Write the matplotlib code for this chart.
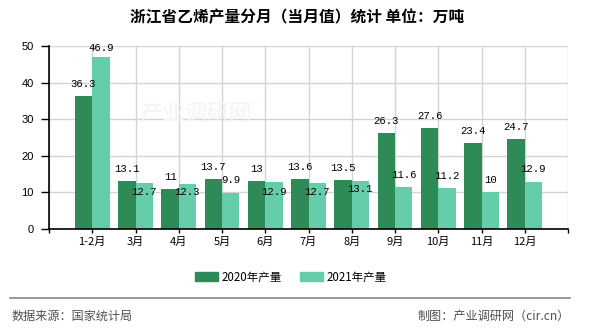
import numpy as np
import matplotlib
matplotlib.use('Agg')
import matplotlib.pyplot as plt
import matplotlib.patches as mpatches

# 浙江省乙烯产量 (万吨)
months = ['1-2月', '3月', '4月', '5月', '6月', '7月', '8月', '9月', '10月', '11月', '12月']
prod_2020 = [36.3, 13.1, 11, 13.7, 13, 13.6, 13.5, 26.3, 27.6, 23.4, 24.7]
prod_2021 = [46.9, 12.7, 12.3, 9.9, 12.9, 12.7, 13.1, 11.6, 11.2, 10, 12.9]

# label offsets (pixels above bar top) for the 2021 values, some sit inside the bar
off_2021 = [9, -9, -8, 13, -10, -9, -8, 12, 12, 12, 13]

plt.rcParams['font.family'] = ['Noto Sans CJK SC', 'DejaVu Sans']

c20 = '#2e8b57'
c21 = '#66cdaa'

fig = plt.figure(figsize=(5.9, 3.3), dpi=100)
ax1 = fig.add_axes([49/590, 1-229/330, (568-49)/590, (229-46)/330])

index = np.arange(1, len(months) + 1)
w = 0.4
ax1.bar(index - w/2, prod_2020, width=w, color=c20, zorder=2)
ax1.bar(index + w/2, prod_2021, width=w, color=c21, zorder=2)

for i in range(len(months)):
	ax1.annotate(f'{prod_2020[i]:g}', (index[i] - w/2, prod_2020[i]), xytext=(0, 12),
		textcoords='offset pixels', ha='center', va='center', fontsize=7.7,
		family='Liberation Mono', zorder=3)
	ax1.annotate(f'{prod_2021[i]:g}', (index[i] + w/2, prod_2021[i]), xytext=(0, off_2021[i]),
		textcoords='offset pixels', ha='center', va='center', fontsize=7.7,
		family='Liberation Mono', zorder=3)

ax1.set_xlim(0, 12)
ax1.set_ylim(0, 50)
ax1.set_xticks(np.arange(0, 13))
ax1.set_xticklabels([''] + months + [''], fontsize=8)
ax1.set_yticks(np.arange(0, 51, 10))
ax1.set_yticklabels([str(v) for v in range(0, 51, 10)], fontsize=8, family='Liberation Sans')
ax1.tick_params(axis='x', length=3, width=1, pad=3)
ax1.tick_params(axis='y', length=6, width=1, pad=5)
ax1.grid(True, color='#d3d3d3', linewidth=1, zorder=0)
ax1.set_axisbelow(True)
for s in ['top', 'right']:
	ax1.spines[s].set_visible(False)
for s in ['left', 'bottom']:
	ax1.spines[s].set_linewidth(1.2)
	ax1.spines[s].set_zorder(4)

# faint watermark
ax1.text(3.4, 31.5, '产业调研网', fontsize=16, color='#faf2f2', ha='center', va='center', zorder=1)

fig.text(0.503, 1 - 17/330, '浙江省乙烯产量分月（当月值）统计 单位：万吨', ha='center', va='center',
	fontsize=11.3, fontweight='bold')

p20 = mpatches.Patch(color=c20, label='2020年产量')
p21 = mpatches.Patch(color=c21, label='2021年产量')
fig.legend(handles=[p20, p21], loc='center', bbox_to_anchor=(291/590, 1 - 277/330), ncol=2,
	frameon=False, fontsize=8.3, handlelength=2.0, handleheight=0.7, handletextpad=0.3,
	columnspacing=1.6)

fig.add_artist(plt.Line2D([10/590, 570/590], [1 - 298/330, 1 - 298/330], color='#888888', linewidth=1.2))
fig.text(12/590, 1 - 316/330, '数据来源：国家统计局', ha='left', va='center', fontsize=8.7, color='#505050')
fig.text(570/590, 1 - 316/330, '制图：产业调研网（cir.cn）', ha='right', va='center', fontsize=8.7, color='#505050')

fig.savefig('out.png', dpi=100)
